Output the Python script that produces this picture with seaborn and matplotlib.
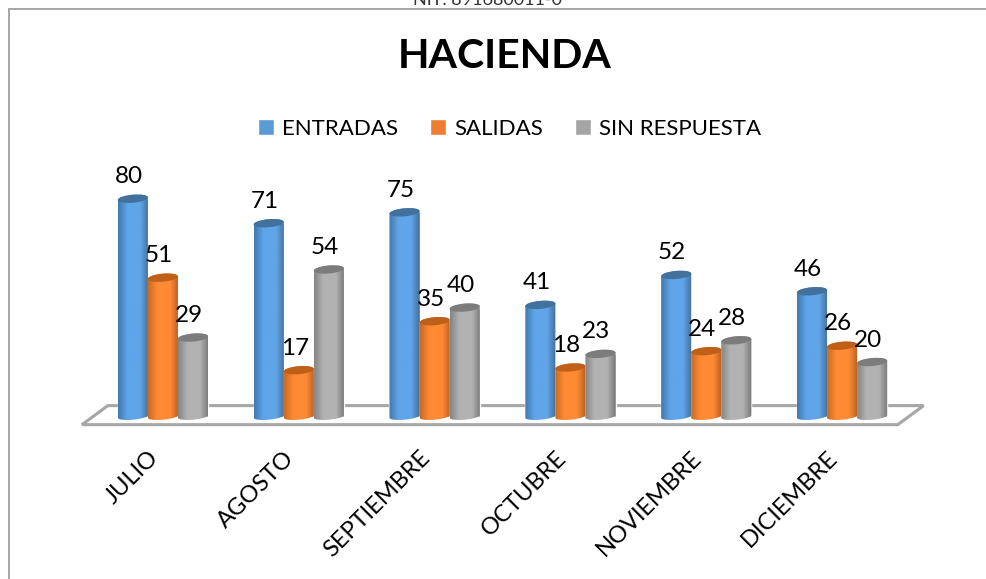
import numpy as np
import pandas as pd
import matplotlib
matplotlib.use("Agg")
import matplotlib.pyplot as plt
import seaborn as sns
from matplotlib.colors import LinearSegmentedColormap
from matplotlib.lines import Line2D
from matplotlib.patches import Polygon, Ellipse
from matplotlib.path import Path
from matplotlib.transforms import IdentityTransform, ScaledTranslation

# datos
meses = ["JULIO", "AGOSTO", "SEPTIEMBRE", "OCTUBRE", "NOVIEMBRE", "DICIEMBRE"]
entradas = [80, 71, 75, 41, 52, 46]
salidas = [51, 17, 35, 18, 24, 26]
sin_respuesta = [29, 54, 40, 23, 28, 20]

series = ["ENTRADAS", "SALIDAS", "SIN RESPUESTA"]
colores = ["#5b9bd5", "#ed7d31", "#a5a5a5"]
# borde izq, centro, borde der, tapa
tonos = [
    ("#4079ad", "#5fa5e8", "#44709c", "#41719c"),
    ("#cc6a22", "#ff8a35", "#b85f20", "#bf5f18"),
    ("#858585", "#b2b2b2", "#777777", "#7c7c7c"),
]

df = pd.DataFrame({"mes": meses, "ENTRADAS": entradas, "SALIDAS": salidas, "SIN RESPUESTA": sin_respuesta})
largo = df.melt(id_vars="mes", var_name="serie", value_name="valor")

sns.set_theme(style="white")
plt.rcParams["font.family"] = ["Lato", "DejaVu Sans"]

W, H = 987, 579
fig = plt.figure(figsize=(W / 100, H / 100), dpi=100)
ax = fig.add_axes([95 / W, (H - 416.5) / H, 815 / W, 245 / H])
ax.patch.set_alpha(0)

sns.barplot(data=largo, x="mes", y="valor", hue="serie", order=meses, hue_order=series,
            palette=colores, width=0.664, saturation=1, ax=ax)
ax.set_xlim(-0.5, 5.5)
ax.set_ylim(0, 90)
ax.set_xlabel("")
ax.set_ylabel("")
ax.set_yticks([])
sns.despine(ax=ax, left=True, bottom=True)
ax.tick_params(axis="x", length=0, pad=22)
plt.setp(ax.get_xticklabels(), rotation=45, ha="right", rotation_mode="anchor", fontsize=17, color="black")
corrimiento = ScaledTranslation(-15 / 100, 0, fig.dpi_scale_trans)
for etiqueta in ax.get_xticklabels():
    etiqueta.set_transform(etiqueta.get_transform() + corrimiento)

# piso del grafico
ax.add_patch(Polygon([(-0.596, -3.0), (5.41, -3.0), (5.60, 4.0), (-0.405, 4.0)], closed=True,
                     facecolor="white", edgecolor="#a6a6a6", lw=2.2, clip_on=False, zorder=0.5))

# cilindros encima de cada barra
inclinacion = np.deg2rad(5)
semi_y = 4.0
orden = 2
for cont, tono in zip(ax.containers, tonos):
    cmap = LinearSegmentedColormap.from_list("c", [(0, tono[0]), (0.3, tono[1]), (0.72, tono[1]), (1, tono[2])])
    for barra, v in zip(cont.patches, cont.datavalues):
        x0 = barra.get_x()
        x1 = x0 + barra.get_width()
        (px0, py0), (px1, py1) = ax.transData.transform([(x0, 0), (x1, v)])
        cx = (px0 + px1) / 2
        semi_x = (px1 - px0) / 2
        t = np.linspace(0, np.pi, 40)
        # tapa de arriba y curva de abajo
        arriba = np.c_[cx + semi_x * np.cos(t), py1 + semi_x * np.cos(t) * np.tan(inclinacion) + semi_y * np.sin(t)]
        abajo = np.c_[cx - semi_x * np.cos(t), py0 - semi_x * np.cos(t) * np.tan(inclinacion) - semi_y * 0.8 * np.sin(t)]
        contorno = np.vstack([arriba, abajo, arriba[:1]])
        im = ax.imshow(np.linspace(0, 1, 64).reshape(1, -1), cmap=cmap, aspect="auto",
                       extent=(x0, x1, -4, v + 4), zorder=orden)
        # la imagen se sale un poco del eje por abajo
        im.set_clip_box(fig.bbox)
        im.set_clip_path(Path(contorno), IdentityTransform())
        tapa = Ellipse((cx, py1), 2 * semi_x / np.cos(inclinacion), 2 * semi_y, angle=np.rad2deg(inclinacion),
                       facecolor=tono[3], edgecolor="none", transform=IdentityTransform(), zorder=orden + 0.5)
        ax.add_artist(tapa)
        ax.annotate(str(int(v)), xy=(barra.get_x() + barra.get_width() / 2, v), xytext=(-4, 22),
                    textcoords="offset pixels", ha="center", va="center", fontsize=17.5, color="black", zorder=20)
    orden += 1
ax.set_xlim(-0.5, 5.5)
ax.set_ylim(0, 90)

handles, labels = ax.get_legend_handles_labels()
ax.legend(handles, labels, ncol=3, frameon=False, loc="center", bbox_to_anchor=(509.5 / W, (H - 129) / H),
          bbox_transform=fig.transFigure, fontsize=16, handlelength=0.72, handleheight=0.72,
          handletextpad=0.35, columnspacing=1.45, labelcolor="black")

# titulo y marco
fig.text(505 / W, (H - 57) / H, "HACIENDA", ha="center", va="center", fontsize=29.5, fontweight="bold", color="black")
fig.text(488 / W, 1.0, "NIT. 891680011-0", ha="center", va="center", fontsize=13, color="#333333")
fig.add_artist(Line2D([9 / W, 9 / W], [0, (H - 9) / H], color="#a6a6a6", lw=1.4, transform=fig.transFigure))
fig.add_artist(Line2D([9 / W, 1], [(H - 9) / H, (H - 9) / H], color="#a6a6a6", lw=1.4, transform=fig.transFigure))

fig.savefig("out.png", dpi=100, facecolor="white")
